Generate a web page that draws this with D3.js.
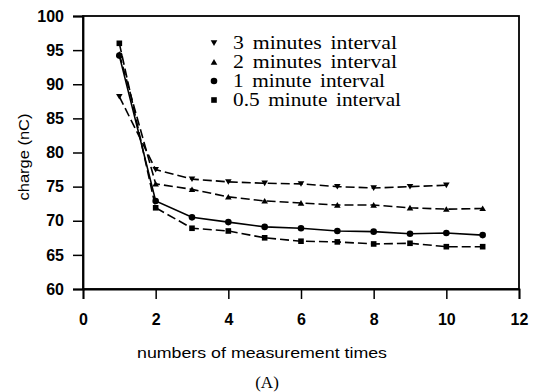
<!DOCTYPE html>
<html>
<head>
<meta charset="utf-8">
<script src="https://cdn.jsdelivr.net/npm/d3@7/dist/d3.min.js"></script>
<style>
  html, body { margin: 0; padding: 0; background: #fff; }
  svg { display: block; }
</style>
</head>
<body>
<svg id="chart" width="537" height="392"></svg>
<script>
// Measurement index (x) for each series
const times3 = [1, 2, 3, 4, 5, 6, 7, 8, 9, 10];
const times = [1, 2, 3, 4, 5, 6, 7, 8, 9, 10, 11];

// Charge (nC) per measurement for each interval
const charge3min = [88.2, 77.5, 76.1, 75.7, 75.5, 75.4, 75.0, 74.8, 75.0, 75.2];
const charge2min = [94.4, 75.4, 74.6, 73.5, 72.9, 72.6, 72.3, 72.3, 71.9, 71.7, 71.8];
const charge1min = [94.2, 72.9, 70.5, 69.8, 69.1, 68.9, 68.5, 68.4, 68.1, 68.2, 67.9];
const charge05min = [96.0, 71.9, 68.9, 68.5, 67.5, 67.0, 66.9, 66.6, 66.7, 66.2, 66.2];

const legendLabels = ["3 minutes interval", "2 minutes interval", "1 minute interval", "0.5 minute interval"];
const xTicks = [0, 2, 4, 6, 8, 10, 12];
const yTicks = [60, 65, 70, 75, 80, 85, 90, 95, 100];

const series = [
  { name: legendLabels[0], xs: times3, ys: charge3min, symbol: "down", dash: "9,4", width: 164 },
  { name: legendLabels[1], xs: times,  ys: charge2min, symbol: "up",   dash: "9,4", width: 164 },
  { name: legendLabels[2], xs: times,  ys: charge1min, symbol: "circle", dash: null, width: 152 },
  { name: legendLabels[3], xs: times,  ys: charge05min, symbol: "square", dash: "9,4", width: 168 }
];

const svg = d3.select("#chart");
const plotLeft = 83, plotRight = 519, plotTop = 16, plotBottom = 289;

const x = d3.scaleLinear().domain([0, 12]).range([plotLeft, plotRight]);
const y = d3.scaleLinear().domain([60, 100]).range([plotBottom, plotTop]);

const tickFont = "'Liberation Sans', Arial, Helvetica, sans-serif";
const serifFont = "'Liberation Serif', 'Times New Roman', serif";

// Frame
svg.append("rect")
  .attr("x", plotLeft).attr("y", plotTop)
  .attr("width", plotRight - plotLeft).attr("height", plotBottom - plotTop)
  .attr("fill", "none").attr("stroke", "#000").attr("stroke-width", 1.8);

// Axes
const xAxis = svg.append("g")
  .attr("transform", `translate(0,${plotBottom})`)
  .call(d3.axisBottom(x).tickValues(xTicks).tickSize(10).tickPadding(15).tickFormat(d3.format("d")));
const yAxis = svg.append("g")
  .attr("transform", `translate(${plotLeft},0)`)
  .call(d3.axisLeft(y).tickValues(yTicks).tickSize(10).tickPadding(9).tickFormat(d3.format("d")));

[xAxis, yAxis].forEach(g => {
  g.select(".domain").attr("stroke-width", 1.8);
  g.selectAll(".tick line").attr("stroke-width", 1.5);
  g.selectAll(".tick text")
    .attr("font-family", tickFont)
    .attr("font-weight", "bold")
    .attr("font-size", 16)
    .attr("fill", "#000");
});

// Axis titles
svg.append("text")
  .attr("x", 262).attr("y", 358)
  .attr("text-anchor", "middle")
  .attr("font-family", tickFont)
  .attr("font-size", 15.5)
  .attr("textLength", 250).attr("lengthAdjust", "spacingAndGlyphs")
  .text("numbers of measurement times");

svg.append("text")
  .attr("transform", "translate(29,157) rotate(-90)")
  .attr("text-anchor", "middle")
  .attr("font-family", tickFont)
  .attr("font-size", 15.5)
  .attr("textLength", 87).attr("lengthAdjust", "spacingAndGlyphs")
  .text("charge (nC)");

svg.append("text")
  .attr("x", 267).attr("y", 388)
  .attr("text-anchor", "middle")
  .attr("font-family", serifFont)
  .attr("font-size", 17)
  .text("(A)");

// Marker shapes
function markerPath(kind, size) {
  const s = size;
  if (kind === "down") return `M${-s},${-s * 0.8} L${s},${-s * 0.8} L0,${s * 0.9} Z`;
  if (kind === "up") return `M${-s},${s * 0.8} L${s},${s * 0.8} L0,${-s * 0.9} Z`;
  if (kind === "square") return `M${-s * 0.85},${-s * 0.85} h${s * 1.7} v${s * 1.7} h${-s * 1.7} Z`;
  return d3.symbol().type(d3.symbolCircle).size(Math.PI * s * s)();
}

const line = d3.line().x(d => x(d[0])).y(d => y(d[1]));

series.forEach(s => {
  const pts = s.xs.map((v, i) => [v, s.ys[i]]);
  svg.append("path")
    .datum(pts)
    .attr("d", line)
    .attr("fill", "none")
    .attr("stroke", "#000")
    .attr("stroke-width", 1.6)
    .attr("stroke-dasharray", s.dash);
  svg.append("g").selectAll("path")
    .data(pts)
    .join("path")
    .attr("transform", d => `translate(${x(d[0])},${y(d[1])})`)
    .attr("d", markerPath(s.symbol, 3.3))
    .attr("fill", "#000");
});

// Legend
const legendY = [43, 62, 81, 100];
const legend = svg.append("g");
series.forEach((s, i) => {
  legend.append("path")
    .attr("transform", `translate(214,${legendY[i]})`)
    .attr("d", markerPath(s.symbol, 3.3))
    .attr("fill", "#000");
  legend.append("text")
    .attr("x", 233).attr("y", legendY[i] + 6)
    .attr("font-family", serifFont)
    .attr("font-size", 19.5)
    .attr("word-spacing", 3)
    .attr("textLength", s.width).attr("lengthAdjust", "spacingAndGlyphs")
    .attr("fill", "#000")
    .text(s.name);
});
</script>
</body>
</html>
